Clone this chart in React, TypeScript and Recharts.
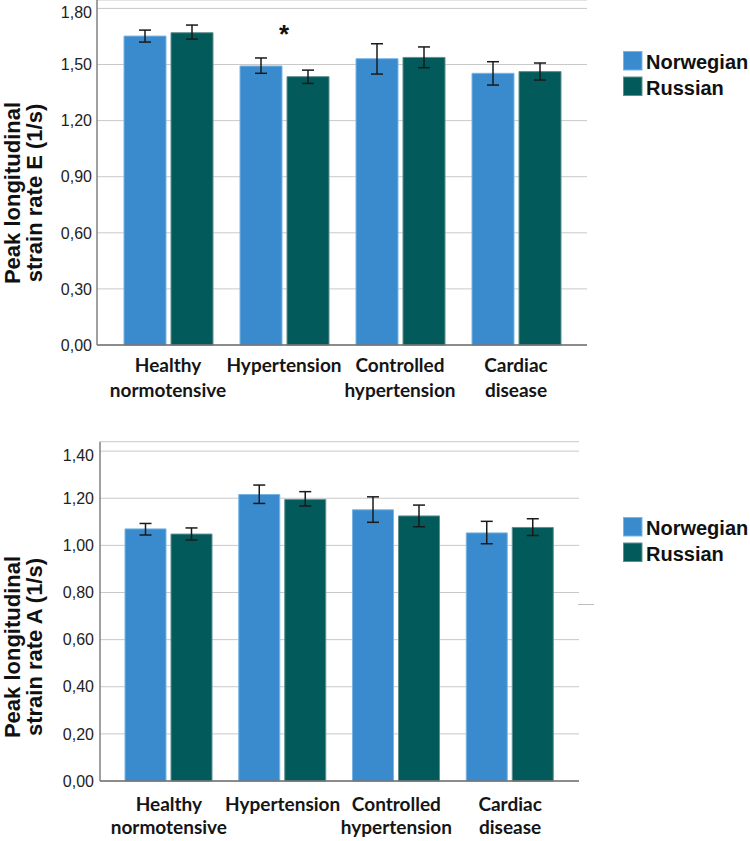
import { Bar, BarChart, CartesianGrid, ErrorBar, ReferenceDot, XAxis, YAxis } from "recharts";

const categories = [
  ["Healthy", "normotensive"],
  ["Hypertension"],
  ["Controlled", "hypertension"],
  ["Cardiac", "disease"],
];
const seriesNames = ["Norwegian", "Russian"];
const seriesColors = ["#3a8bcd", "#025a5a"];
const seriesEdges = ["#79b4e4", "#5f8f8f"];

// peak E strain rate, mean with CI limits
const norE = [1.652, 1.492, 1.531, 1.453];
const norELow = [1.62, 1.453, 1.449, 1.39];
const norEHigh = [1.684, 1.535, 1.611, 1.515];
const rusE = [1.67, 1.435, 1.538, 1.462];
const rusELow = [1.636, 1.399, 1.483, 1.417];
const rusEHigh = [1.711, 1.47, 1.594, 1.508];
const ticksE = [0, 0.3, 0.6, 0.9, 1.2, 1.5, 1.8];
const sigE = 1.647;

// peak A strain rate
const norA = [1.07, 1.216, 1.151, 1.053];
const norALow = [1.044, 1.178, 1.098, 1.007];
const norAHigh = [1.093, 1.256, 1.206, 1.102];
const rusA = [1.048, 1.195, 1.125, 1.076];
const rusALow = [1.023, 1.167, 1.079, 1.042];
const rusAHigh = [1.074, 1.228, 1.171, 1.113];
const ticksA = [0, 0.2, 0.4, 0.6, 0.8, 1.0, 1.2, 1.4];

const build = (nor: number[], norLo: number[], norHi: number[], rus: number[], rusLo: number[], rusHi: number[]) =>
  categories.map((c, i) => ({
    name: c.join("\n"),
    nor: nor[i],
    norErr: [nor[i] - norLo[i], norHi[i] - nor[i]],
    rus: rus[i],
    rusErr: [rus[i] - rusLo[i], rusHi[i] - rus[i]],
  }));

const dataE = build(norE, norELow, norEHigh, rusE, rusELow, rusEHigh);
const dataA = build(norA, norALow, norAHigh, rusA, rusALow, rusAHigh);

const fmt = (v: number) => v.toFixed(2).replace(".", ",");

function CatTick({ x, y, payload, d1, d2 }: any) {
  const lines = String(payload.value).split("\n");
  const style = { fontFamily: "Lato, sans-serif", fontWeight: 700, fontSize: 19, fill: "#151515" };
  return (
    <g>
      <text x={x} y={y + d1} textAnchor="middle" {...style}>{lines[0]}</text>
      {lines[1] && (
        <text x={x} y={y + d2} textAnchor="middle" {...style}>{lines[1]}</text>
      )}
    </g>
  );
}

function ValTick({ x, y, payload, top }: any) {
  // the top label sits a little below its gridline in the original
  const shift = payload.value === top ? 4 : 0;
  return (
    <text x={x} y={y + 5.7 + shift} textAnchor="end" fontFamily="'Liberation Sans', Arial" fontSize={16} fill="#222">
      {fmt(payload.value)}
    </text>
  );
}

function AxisTitle({ cy, x1, x2, text2 }: { cy: number; x1: number; x2: number; text2: string }) {
  const style = { fontFamily: "'Liberation Sans', Arial", fontWeight: 700, fontSize: 22, fill: "#111" };
  return (
    <g>
      <text transform={`translate(${x1},${cy}) rotate(-90)`} textAnchor="middle" {...style}>Peak longitudinal</text>
      <text transform={`translate(${x2},${cy}) rotate(-90)`} textAnchor="middle" {...style}>{text2}</text>
    </g>
  );
}

function LegendBox({ top, left }: { top: number; left: number }) {
  return (
    <svg style={{ position: "absolute", left, top }} width={750 - left} height={52}>
      {seriesNames.map((n, i) => (
        <g key={n}>
          <rect x={0.5} y={0.5 + i * 25.5} width={18.5} height={18.5} fill={seriesColors[i]} stroke={seriesEdges[i]} />
          <text x={23} y={18 + i * 25.5} fontFamily="'Liberation Sans', Arial" fontWeight={700} fontSize={20} fill="#111">
            {n}
          </text>
        </g>
      ))}
    </svg>
  );
}

function Chart({
  data, width, height, margin, yWidth, domainTop, ticks, pad, barSize, tickGap, d1, d2, title, titleY, sig,
}: any) {
  return (
    <BarChart width={width} height={height} data={data} margin={margin} barGap={5}>
      <CartesianGrid vertical={false} stroke="#c9c9c9" />
      <XAxis
        dataKey="name"
        interval={0}
        height={60}
        padding={pad}
        axisLine={{ stroke: "#6f6f6f", strokeWidth: 1.5 }}
        tickLine={false}
        tickSize={0}
        tickMargin={0}
        tick={<CatTick d1={d1} d2={d2} />}
      />
      <YAxis
        width={yWidth}
        domain={[0, domainTop]}
        ticks={ticks}
        interval={0}
        axisLine={{ stroke: "#808080", strokeWidth: 1.5 }}
        tickLine={false}
        tickSize={0}
        tickMargin={tickGap}
        tick={<ValTick top={ticks[ticks.length - 1]} />}
        label={{ content: () => <AxisTitle cy={titleY} x1={20} x2={42} text2={title} /> }}
      />
      <Bar dataKey="nor" name={seriesNames[0]} fill={seriesColors[0]} stroke={seriesEdges[0]} strokeWidth={1} barSize={barSize} isAnimationActive={false}>
        <ErrorBar dataKey="norErr" width={6} stroke="#1a1a1a" strokeWidth={1.5} direction="y" />
      </Bar>
      <Bar dataKey="rus" name={seriesNames[1]} fill={seriesColors[1]} stroke={seriesEdges[1]} strokeWidth={1} barSize={barSize} isAnimationActive={false}>
        <ErrorBar dataKey="rusErr" width={6} stroke="#1a1a1a" strokeWidth={1.5} direction="y" />
      </Bar>
      {sig !== undefined && (
        <ReferenceDot
          x={data[1].name}
          y={sig}
          r={0}
          fill="none"
          stroke="none"
          label={{ value: "*", position: "center", fontSize: 26, fontWeight: 700, fill: "#111", fontFamily: "'Liberation Sans', Arial" }}
        />
      )}
    </BarChart>
  );
}

export default function App() {
  return (
    <div style={{ position: "absolute", left: 0, top: 0, width: 750, height: 841, overflow: "hidden", background: "#fff" }}>
      <div style={{ position: "absolute", left: 0, top: 0 }}>
        <Chart
          data={dataE}
          width={750}
          height={420}
          margin={{ top: 0, right: 163, left: 0, bottom: 15 }}
          yWidth={97}
          domainTop={1.845}
          ticks={ticksE}
          pad={{ left: 13, right: 13 }}
          barSize={42}
          tickGap={5}
          d1={27}
          d2={52}
          title="strain rate E (1/s)"
          titleY={193}
          sig={sigE + 0.015}
        />
      </div>
      <div style={{ position: "absolute", left: 0, top: 420 }}>
        <Chart
          data={dataA}
          width={750}
          height={421}
          margin={{ top: 21.7, right: 171, left: 0, bottom: 0 }}
          yWidth={100}
          domainTop={1.44}
          ticks={ticksA}
          pad={{ left: 12, right: 12 }}
          barSize={41}
          tickGap={6}
          d1={30}
          d2={53}
          title="strain rate A (1/s)"
          titleY={227}
        />
      </div>
      <LegendBox left={623} top={50.5} />
      <LegendBox left={623} top={516.5} />
      <div style={{ position: "absolute", left: 578, top: 604, width: 16, height: 1, background: "#bdbdbd" }} />
    </div>
  );
}
